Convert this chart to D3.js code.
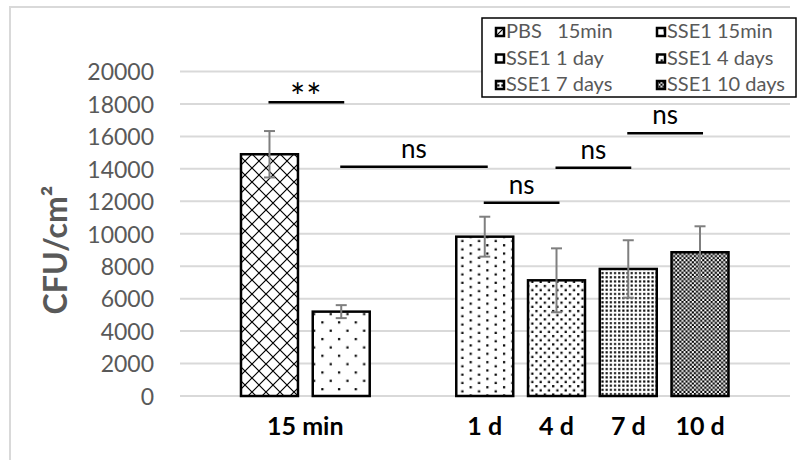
<!DOCTYPE html>
<html><head><meta charset="utf-8">
<script src="https://cdn.jsdelivr.net/npm/d3@7"></script>
<style>body{margin:0;background:#fff} text{font-family:Lato,"Open Sans",sans-serif}</style>
</head><body><svg id="c" width="802" height="460"></svg>
<script>
// ---- data ----
const slots = ["PBS 15min","SSE1 15min","gap","SSE1 1 day","SSE1 4 days","SSE1 7 days","SSE1 10 days"];
const series = ["PBS 15min","SSE1 15min","SSE1 1 day","SSE1 4 days","SSE1 7 days","SSE1 10 days"];
const legendLabels = ["PBS\u00a0\u00a0 15min","SSE1 15min","SSE1 1 day","SSE1 4 days","SSE1 7 days","SSE1 10 days"];
const values = [14900, 5200, 9820, 7130, 7830, 8860];
const errors = [1430, 400, 1230, 1970, 1770, 1600];
const patternIds = ["p_pbs","p_d5","p_d10","p_d20","p_d25","p_d70"];
const groupLabels = ["15 min","1 d","4 d","7 d","10 d"];
const groupMembers = [["PBS 15min","SSE1 15min"],["SSE1 1 day"],["SSE1 4 days"],["SSE1 7 days"],["SSE1 10 days"]];
const yTicks = [0,2000,4000,6000,8000,10000,12000,14000,16000,18000,20000];
const sigText = ["**","ns","ns","ns","ns"];
const sigFrom = ["PBS 15min","SSE1 15min","SSE1 1 day","SSE1 4 days","SSE1 7 days"];
const sigTo   = ["SSE1 15min","SSE1 1 day","SSE1 4 days","SSE1 7 days","SSE1 10 days"];
const sigY    = [18100, 14130, 11910, 14070, 16190];

const svg = d3.select("#c");
svg.append("rect").attr("width",802).attr("height",460).attr("fill","#fff");

// ---- patterns ----
const defs = svg.append("defs");
function pat(id, w, h) {
  const p = defs.append("pattern").attr("id", id).attr("patternUnits","userSpaceOnUse")
    .attr("width", w).attr("height", h);
  p.append("rect").attr("width", w).attr("height", h).attr("fill", "#fff");
  return p;
}
// diamond lattice
{ const P = 14; const p = pat("p_pbs", P, P);
  p.append("path").attr("d", `M0,0L${P},${P}M${P},0L0,${P}`).attr("stroke","#000").attr("stroke-width",1.2).attr("fill","none"); }
function dots(id, w, h, pts, r) {
  const p = pat(id, w, h);
  pts.forEach(([a,b]) => p.append("rect").attr("x",a).attr("y",b).attr("width",r).attr("height",r).attr("fill","#000"));
}
dots("p_d5", 16.7, 16.7, [[4,4],[12.35,12.35]], 2.2);
dots("p_d10", 16.7, 8.35, [[2,2],[10.35,6.17]], 2.2);
dots("p_d20", 8.35, 8.35, [[1,1],[5.17,5.17]], 2.2);
dots("p_d25", 4.17, 4.17, [[1,1]], 2.1);
{ const c = 2.09; const p = pat("p_d70", c*4, c*4);
  for (let i=0;i<4;i++) for (let j=0;j<4;j++) {
    const black = ((i+j)%2===0) || (i===1&&j===3);
    if (black) p.append("rect").attr("x",i*c).attr("y",j*c).attr("width",c+0.05).attr("height",c+0.05).attr("fill","#000");
  } }

// ---- frame ----
svg.append("line").attr("x1",9).attr("x2",790).attr("y1",7).attr("y2",7).attr("stroke","#d9d9d9").attr("stroke-width",2);
svg.append("line").attr("x1",10).attr("x2",10).attr("y1",6).attr("y2",460).attr("stroke","#d9d9d9").attr("stroke-width",2);

// ---- scales ----
const y = d3.scaleLinear().domain([0,20000]).range([396,71.5]);
const x = d3.scaleBand().domain(slots).range([233.6,735.9]).paddingInner(0.206).paddingOuter(0.103);
const cx = s => x(s) + x.bandwidth()/2;

// gridlines
svg.append("g").selectAll("line").data(yTicks).join("line")
  .attr("x1",180).attr("x2",790).attr("y1",d=>y(d)).attr("y2",d=>y(d))
  .attr("stroke","#d9d9d9").attr("stroke-width",2);

// y axis
const ya = svg.append("g").attr("transform","translate(180,0)")
  .call(d3.axisLeft(y).tickValues(yTicks).tickSize(0).tickPadding(26).tickFormat(d3.format("d")));
ya.select(".domain").remove();
ya.selectAll("text").attr("font-family","Lato").attr("font-size",23).attr("fill","#595959").attr("dy","0.36em");

// y title
svg.append("text").attr("transform","translate(67,250) rotate(-90)").attr("text-anchor","middle")
  .attr("font-size",32).attr("font-weight","bold").attr("fill","#595959")
  .text("CFU/cm²");

// bars
const bars = svg.append("g");
series.forEach((s,i) => {
  bars.append("rect").attr("x",x(s)).attr("width",x.bandwidth())
    .attr("y",y(values[i])).attr("height",y(0)-y(values[i]))
    .attr("fill",`url(#${patternIds[i]})`).attr("stroke","#000").attr("stroke-width",2.5);
});
// error bars
const eb = svg.append("g").attr("stroke","#7f7f7f").attr("stroke-width",2);
series.forEach((s,i) => {
  const c = cx(s), t = y(values[i]+errors[i]), b = y(values[i]-errors[i]);
  eb.append("line").attr("x1",c).attr("x2",c).attr("y1",t).attr("y2",b);
  eb.append("line").attr("x1",c-5.5).attr("x2",c+5.5).attr("y1",t).attr("y2",t);
  eb.append("line").attr("x1",c-5.5).attr("x2",c+5.5).attr("y1",b).attr("y2",b);
});

// x labels
groupLabels.forEach((g,i) => {
  const cxs = d3.mean(groupMembers[i], cx);
  svg.append("text").attr("x",cxs).attr("y",435).attr("text-anchor","middle")
    .attr("font-size",25).attr("font-weight","bold").attr("fill","#000").text(g);
});

// significance
sigText.forEach((t,i) => {
  const x1 = cx(sigFrom[i]) - 1, x2 = cx(sigTo[i]) + 3, yy = y(sigY[i]);
  svg.append("line").attr("x1",x1).attr("x2",x2).attr("y1",yy).attr("y2",yy).attr("stroke","#000").attr("stroke-width",2.5);
  const tx = svg.append("text").attr("x",(x1+x2)/2).attr("text-anchor","middle").attr("fill","#000").text(t);
  if (t === "**") tx.attr("y", yy + 8).attr("font-size",36).attr("letter-spacing",1);
  else tx.attr("y", yy - 9).attr("font-size",26);
});

// legend
const lg = svg.append("g");
lg.append("rect").attr("x",482).attr("y",18).attr("width",314).attr("height",79).attr("fill","#fff").attr("stroke","#000").attr("stroke-width",1.5);
series.forEach((s,i) => {
  const col = i%2, row = Math.floor(i/2);
  const lx = 496 + col*161, by = 38 + row*26.5;
  lg.append("rect").attr("x",lx).attr("y",by-10).attr("width",8).attr("height",8)
    .attr("fill",`url(#${patternIds[i]})`).attr("stroke","#000").attr("stroke-width",2.5);
  lg.append("text").attr("x",lx+10).attr("y",by).attr("font-size",20).attr("fill","#595959")
    .style("white-space","pre").text(legendLabels[i]);
});
</script></body></html>
